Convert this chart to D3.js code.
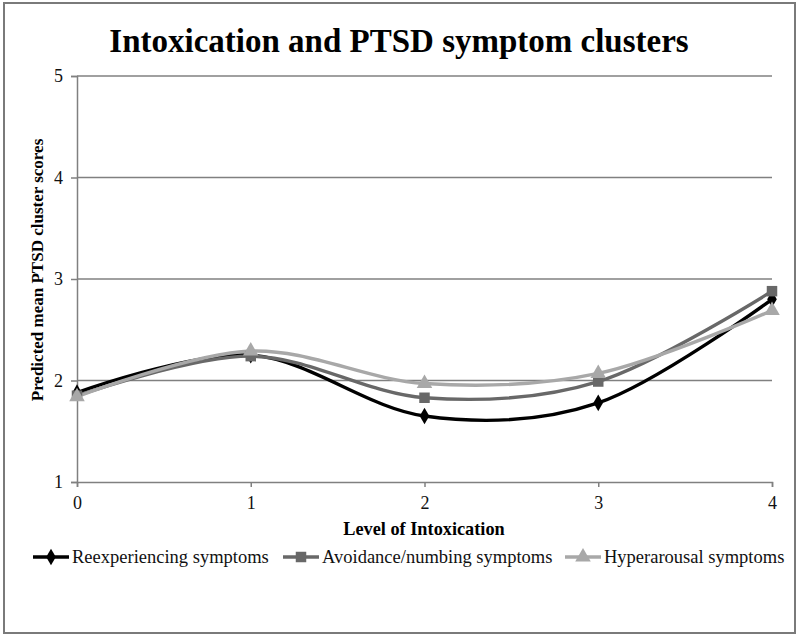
<!DOCTYPE html>
<html><head><meta charset="utf-8">
<script src="https://cdn.jsdelivr.net/npm/d3@7"></script>
<style>body{margin:0;background:#fff}svg{display:block}</style>
</head><body>
<svg id="c" width="800" height="638"></svg>
<script>
const categories = [0, 1, 2, 3, 4];
const reexperiencing = [1.88, 2.25, 1.65, 1.78, 2.80];
const avoidance = [1.85, 2.24, 1.83, 1.99, 2.88];
const hyperarousal = [1.84, 2.29, 1.97, 2.07, 2.69];
const yTicks = [1, 2, 3, 4, 5];
const seriesNames = ["Reexperiencing symptoms", "Avoidance/numbing symptoms", "Hyperarousal symptoms"];

const series = [
  {name: seriesNames[0], values: reexperiencing, color: "#000000", shape: "diamond"},
  {name: seriesNames[1], values: avoidance, color: "#686868", shape: "square"},
  {name: seriesNames[2], values: hyperarousal, color: "#a8a8a8", shape: "triangle"}
];

const svg = d3.select("#c");
const font = "'Liberation Serif', 'Times New Roman', Times, serif";

svg.append("rect").attr("x", 4).attr("y", 3).attr("width", 791).attr("height", 630)
  .attr("fill", "#fff").attr("stroke", "#7a7a7a").attr("stroke-width", 2);

const x = d3.scaleLinear().domain([0, 4]).range([77, 772]);
const y = d3.scaleLinear().domain([1, 5]).range([482, 76]);

// gridlines
svg.append("g").selectAll("line").data(yTicks.slice(1)).join("line")
  .attr("x1", x(0)).attr("x2", x(4)).attr("y1", d => y(d)).attr("y2", d => y(d))
  .attr("stroke", "#808080").attr("stroke-width", 1.5);

// y axis
const ya = svg.append("g").attr("transform", `translate(${x(0)},0)`)
  .call(d3.axisLeft(y).tickValues(yTicks).tickSize(6).tickPadding(8).tickFormat(d3.format("d")));
ya.attr("font-family", font);
ya.select(".domain").attr("stroke", "#808080").attr("stroke-width", 1.5);
ya.selectAll(".tick line").attr("stroke", "#808080").attr("stroke-width", 1.5);
ya.selectAll("text").attr("font-family", font).attr("font-size", 18).attr("fill", "#111");

// x axis
const xa = svg.append("g").attr("transform", `translate(0,${y(1)})`)
  .call(d3.axisBottom(x).tickValues(categories).tickSize(5).tickPadding(9).tickFormat(d3.format("d")));
xa.attr("font-family", font);
xa.select(".domain").attr("stroke", "#808080").attr("stroke-width", 1.5);
xa.selectAll(".tick line").attr("stroke", "#808080").attr("stroke-width", 1.5);
xa.selectAll("text").attr("font-family", font).attr("font-size", 18).attr("fill", "#111");

// title
svg.append("text").attr("x", 399).attr("y", 52).attr("text-anchor", "middle")
  .attr("font-family", font).attr("font-weight", "bold").attr("font-size", 33)
  .text("Intoxication and PTSD symptom clusters");

// axis titles
svg.append("text").attr("transform", "translate(43,270) rotate(-90)").attr("text-anchor", "middle")
  .attr("font-family", font).attr("font-weight", "bold").attr("font-size", 17)
  .text("Predicted mean PTSD cluster scores");
svg.append("text").attr("x", 424).attr("y", 535).attr("text-anchor", "middle")
  .attr("font-family", font).attr("font-weight", "bold").attr("font-size", 18.3)
  .text("Level of Intoxication");

const symbolFor = s => s === "diamond" ? d3.symbolDiamond : s === "square" ? d3.symbolSquare : d3.symbolTriangle;
const sizeFor = s => s === "diamond" ? 80 : s === "square" ? 110 : 105;

const line = d3.line().x((d, i) => x(categories[i])).y(d => y(d)).curve(d3.curveCardinal.tension(0));

series.forEach(s => {
  svg.append("path").datum(s.values).attr("d", line)
    .attr("fill", "none").attr("stroke", s.color).attr("stroke-width", 3.4);
});
series.forEach(s => {
  svg.append("g").selectAll("path").data(s.values).join("path")
    .attr("transform", (d, i) => `translate(${x(categories[i])},${y(d)})`)
    .attr("d", d3.symbol().type(symbolFor(s.shape)).size(sizeFor(s.shape)))
    .attr("fill", s.color);
});

// legend
const legendX = [33, 283, 565];
const lg = svg.append("g");
series.forEach((s, k) => {
  const g = lg.append("g").attr("transform", `translate(${legendX[k]},557)`);
  g.append("line").attr("x1", 0).attr("x2", 36).attr("y1", 0).attr("y2", 0)
    .attr("stroke", s.color).attr("stroke-width", 3.4);
  g.append("path").attr("transform", "translate(18,0)")
    .attr("d", d3.symbol().type(symbolFor(s.shape)).size(sizeFor(s.shape)))
    .attr("fill", s.color);
  g.append("text").attr("x", 39).attr("y", 6).attr("font-family", font).attr("font-size", 18.5)
    .attr("fill", "#111").text(s.name);
});
</script>
</body></html>
